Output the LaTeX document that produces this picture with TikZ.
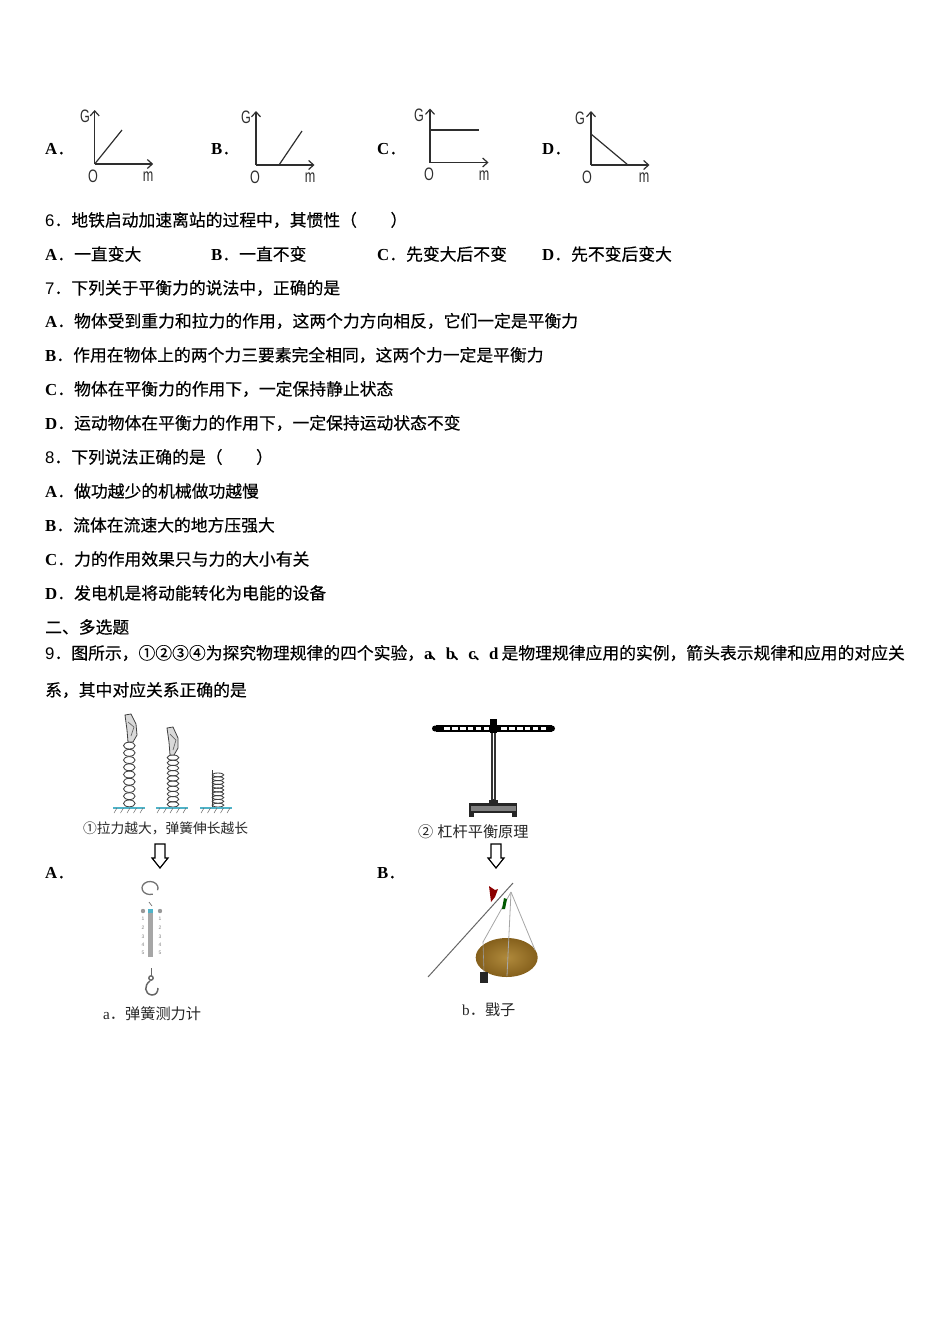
\documentclass[tikz,border=0pt]{standalone}
\usepackage{fontspec}
\setmainfont{Liberation Serif}
\newfontfamily\cjk[FakeBold=0.35]{Noto Sans CJK SC}
\newfontfamily\cjkthin{Noto Sans CJK SC}
\newfontfamily\axfont{Liberation Sans}
\usetikzlibrary{calc,arrows.meta}
\definecolor{axisgray}{HTML}{2E2E2E}
\definecolor{groundblue}{HTML}{4FB3C8}
\definecolor{platebrown}{HTML}{B08A3C}
\definecolor{platedark}{HTML}{85601C}
\newcommand{\latn}[1]{{\rmfamily\bfseries #1}}
\newcommand{\numb}[1]{{\axfont #1}}
\tikzset{
  txt/.style={anchor=west,inner sep=0pt,font=\cjk\fontsize{16.8}{18}\selectfont},
  captxt/.style={anchor=west,inner sep=0pt,text=black!85,font=\cjkthin\fontsize{13.75}{15}\selectfont},
  bigcap/.style={captxt,font=\cjkthin\fontsize{15.2}{16}\selectfont},
  axlab/.style={inner sep=0pt,text=axisgray,xscale=.7,font=\axfont\fontsize{18}{18}\selectfont},
  axisline/.style={draw=axisgray,line width=1.2pt,-{Straight Barb[length=5pt,width=9pt,line width=1.2pt]}},
  curveline/.style={draw=axisgray,line width=1.2pt},
  coil/.style={draw=black!75,line width=.85pt},
  hollow/.style={draw=black,line width=1.2pt,fill=white,line join=miter},
  hatchline/.style={draw=black!60,line width=.5pt},
  handshape/.style={draw=black!75,fill=black!15,line width=.8pt}
}
\begin{document}
\begin{tikzpicture}[x=1pt,y=-1pt]
  \useasboundingbox (0,0) rectangle (950,1344);
  % Option graphs
  \node[txt] (la) at (45,149) {\latn{A}．};
  \node[txt] (lb) at (211,149) {\latn{B}．};
  \node[txt] (lc) at (377,149) {\latn{C}．};
  \node[txt] (ld) at (542,149) {\latn{D}．};
  \foreach \nm/\ox/\oy/\gx/\gy/\zx/\zy/\mx/\my in {
      a/94.7/164/85/116/93/176/148/177,
      b/256/165/246/117/255/177/310/178,
      c/430/162.5/419/115/429/174/484/176,
      d/591/165/580/118/587/177/644/178} {
    \coordinate (O\nm) at (\ox,\oy);
    \coordinate (G\nm) at (\ox,\oy-54);
    \coordinate (M\nm) at (\ox+58.5,\oy);
    \draw[axisline] (O\nm) -- (G\nm);
    \draw[axisline] (O\nm) -- (M\nm);
    \node[axlab] (tg\nm) at (\gx,\gy) {G};
    \node[axlab] (to\nm) at (\zx,\zy) {O};
    \node[axlab] (tm\nm) at (\mx,\my) {m};
  }
  % Graph lines
  \coordinate (Ea) at (122,130);
  \coordinate (Sb) at (279,165);
  \coordinate (Eb) at (302,131);
  \coordinate (Sc) at (430,130);
  \coordinate (Ec) at (479,130);
  \coordinate (Sd) at (591,134);
  \coordinate (Ed) at (628,165);
  \draw[curveline] (Oa) -- (Ea);
  \draw[curveline] (Sb) -- (Eb);
  \draw[curveline] (Sc) -- (Ec);
  \draw[curveline] (Sd) -- (Ed);
  % Question text
  \node[txt] (q6) at (45,220) {\numb{6}．地铁启动加速离站的过程中，其惯性（　　）};
  \node[txt] (q6a) at (45,254) {\latn{A}．一直变大};
  \node[txt] (q6b) at (211,254) {\latn{B}．一直不变};
  \node[txt] (q6c) at (377,254) {\latn{C}．先变大后不变};
  \node[txt] (q6d) at (542,254) {\latn{D}．先不变后变大};
  \node[txt] (q7) at (45,288) {\numb{7}．下列关于平衡力的说法中，正确的是};
  \node[txt] (q7a) at (45,321) {\latn{A}．物体受到重力和拉力的作用，这两个力方向相反，它们一定是平衡力};
  \node[txt] (q7b) at (45,355) {\latn{B}．作用在物体上的两个力三要素完全相同，这两个力一定是平衡力};
  \node[txt] (q7c) at (45,389) {\latn{C}．物体在平衡力的作用下，一定保持静止状态};
  \node[txt] (q7d) at (45,423) {\latn{D}．运动物体在平衡力的作用下，一定保持运动状态不变};
  \node[txt] (q8) at (45,457) {\numb{8}．下列说法正确的是（　　）};
  \node[txt] (q8a) at (45,491) {\latn{A}．做功越少的机械做功越慢};
  \node[txt] (q8b) at (45,525) {\latn{B}．流体在流速大的地方压强大};
  \node[txt] (q8c) at (45,559) {\latn{C}．力的作用效果只与力的大小有关};
  \node[txt] (q8d) at (45,593) {\latn{D}．发电机是将动能转化为电能的设备};
  \node[txt] (sec) at (45,627) {二、多选题};
  \node[txt] (q9) at (45,653) {\numb{9}．图所示，①②③④为探究物理规律的四个实验，\latn{a}\hspace{-3pt}、\hspace{-.5pt}\latn{b}\hspace{-3pt}、\hspace{-.5pt}\latn{c}\hspace{-3pt}、\hspace{-.5pt}\latn{d}\hspace{3pt}是物理规律应用的实例，箭头表示规律和应用的对应关};
  \node[txt] (q9x) at (45,690) {系，其中对应关系正确的是};
  \node[txt] (q9a) at (45,873) {\latn{A}．};
  \node[txt] (q9b) at (377,873) {\latn{B}．};
  % Springs
  \foreach \cx/\top/\num/\ry in {129.3/742/9/3.4,173/755/10/2.6,218/773/9/1.9} {
    \foreach \i in {1,...,\num} {
      \draw[coil] ({\cx},{\top+(\i-.5)*(807-\top)/\num}) ellipse (5.8 and \ry);
    }
  }
  \draw[coil] (212.5,770) -- (212.5,807);
  % Hands
  \draw[handshape] (125,715) -- (131,714) -- (136,724) -- (137,735) -- (133,742) -- (128,742) -- (127,730) -- cycle;
  \draw[draw=black!60,line width=.7pt] (128,722) -- (134,727) -- (131,736);
  \draw[handshape] (167,728) -- (173,727) -- (178,738) -- (178,748) -- (174,755) -- (170,755) -- (169,742) -- cycle;
  \draw[draw=black!60,line width=.7pt] (170,734) -- (176,740) -- (173,750);
  % Ground
  \foreach \xa/\xb in {113/145,156/188,200/232} {
    \draw[draw=groundblue,line width=1.1pt] (\xa,808) -- (\xb,808);
    \foreach \k in {0,...,4} {
      \draw[hatchline] ({\xa+4+\k*6.5},808) -- ({\xa+1+\k*6.5},813);
    }
  }
  \node[captxt] (capa) at (83,828) {①拉力越大，弹簧伸长越长};
  % Lever
  \coordinate (Pt) at (493.5,720);
  \coordinate (Pb) at (493.5,803);
  \draw[line width=5.2pt,black!80] (Pt) -- (Pb);
  \draw[line width=1.6pt,white] (493.5,733) -- (493.5,799);
  \fill[black] (436,725) rectangle (552,732);
  \fill[black] (435,728.5) circle (3);
  \fill[black] (552,728.5) circle (3);
  \fill[black] (490,719) rectangle (497,733);
  \foreach \k in {0,...,5} {
    \fill[white] ({444+\k*7.9},726.8) rectangle ({449.7+\k*7.9},730.4);
    \fill[white] ({501+\k*7.9},726.8) rectangle ({506.7+\k*7.9},730.4);
  }
  \fill[black!85] (489,800) rectangle (498,804);
  \fill[black!85] (469,803) rectangle (517,817);
  \fill[black!50] (470.5,805.5) rectangle (515.5,811);
  \fill[white] (474,813) rectangle (512,817.5);
  \node[bigcap] (capb) at (418,832) {②\hspace{4pt}杠杆平衡原理};
  % Big arrows
  \foreach \ax in {160,496} {
    \draw[hollow] (\ax-5,844) -- (\ax+5,844) -- (\ax+5,858) -- (\ax+8,858) -- (\ax,868) -- (\ax-8,858) -- (\ax-5,858) -- cycle;
  }
  % Spring balance
  \draw[black!55,line width=1.3pt] (150,888) ++(70:8 and 6.5) arc (70:380:8 and 6.5);
  \draw[black!55,line width=.7pt] (149,902) -- (152,906);
  \fill[black!35] (148,912) rectangle (153,957);
  \fill[groundblue] (148,909) rectangle (153,913);
  \fill[black!40] (143,911) circle (2.2);
  \fill[black!40] (160,911) circle (2.2);
  \foreach \n/\dy in {1/919,2/928,3/937,4/945,5/953} {
    \node[inner sep=0pt,text=black!50,font=\axfont\fontsize{5}{5}\selectfont] (sl\n) at (143,\dy) {\n};
    \node[inner sep=0pt,text=black!50,font=\axfont\fontsize{5}{5}\selectfont] (sr\n) at (160,\dy) {\n};
  }
  \draw[black!60,line width=.8pt] (151,968) -- (151,976);
  \draw[black!60,line width=1.4pt] (151,978) circle (2.2);
  \draw[black!60,line width=1.5pt] (150,981) .. controls (144,985) and (144,994) .. (152,995) .. controls (156,995) and (158,992) .. (158,988);
  \node[bigcap] (capc) at (103,1014) {{\rmfamily a}．弹簧测力计};
  % Steelyard
  \coordinate (Rl) at (428,977);
  \coordinate (Rr) at (513,883);
  \coordinate (Sp) at (511,892);
  \shade[inner color=platebrown,outer color=platedark] (506.7,957.5) ellipse (31 and 19.5);
  \draw[draw=black!60,line width=1pt] (Rl) -- (Rr);
  \draw[draw=black!35,line width=.8pt] (Sp) -- (483,942);
  \draw[draw=black!35,line width=.8pt] (Sp) -- (507,976);
  \draw[draw=black!35,line width=.8pt] (Sp) -- (535,950);
  \draw[draw=black!40,line width=.6pt] (483,942) -- (484,972);
  \fill[black!85] (480,972) rectangle (488,983);
  \fill[red!55!black] (489,886) -- (495,890) -- (498,889) -- (495,897) -- (491,902) -- cycle;
  \fill[green!35!black] (504,898) -- (507,899) -- (505,909) -- (502,909) -- cycle;
  \node[bigcap] (capd) at (462,1010) {{\rmfamily b}．戥子};
\end{tikzpicture}
\end{document}
